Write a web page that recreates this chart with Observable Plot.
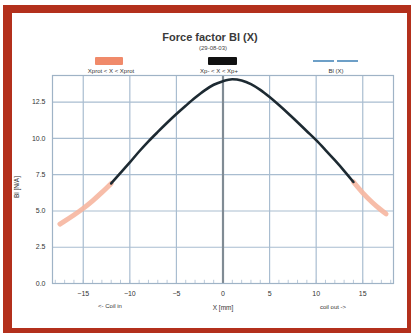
<!DOCTYPE html>
<html><head><meta charset="utf-8">
<script src="https://cdn.jsdelivr.net/npm/d3@7"></script>
<script src="https://cdn.jsdelivr.net/npm/@observablehq/plot@0.6"></script>
<style>
body{margin:0;background:#fff;}
#wrap{position:relative;width:411px;height:333px;overflow:hidden;font-family:"Liberation Sans",Arial,sans-serif;background:#fff;color:#222}
#border{position:absolute;left:3px;top:5px;width:413px;height:332px;box-sizing:border-box;border:9px solid #b3301c;border-top-width:8px;pointer-events:none;z-index:5}
.t{position:absolute;transform:translate(-50%,-50%);white-space:nowrap;z-index:3}
.sw{position:absolute;z-index:3}
#chart{position:absolute;left:0;top:0}
</style></head>
<body><div id="wrap">
<div id="chart"></div>
<div class="t" style="left:210px;top:37px;font-size:11px;font-weight:bold;color:#3a3a3a">Force factor Bl (X)</div>
<div class="t" style="left:213px;top:48px;font-size:6px;color:#444">(29-08-03)</div>
<div class="sw" style="left:95px;top:57px;width:28px;height:8px;background:#f08a6a;border-radius:1px"></div>
<div class="t" style="left:111px;top:71px;font-size:6px;color:#333">Xprot &lt; X &lt; Xprot</div>
<div class="sw" style="left:208px;top:57px;width:29px;height:8px;background:#111;border-radius:1px"></div>
<div class="t" style="left:219px;top:71px;font-size:6px;color:#333">Xp- &lt; X &lt; Xp+</div>
<div class="sw" style="left:313px;top:60px;width:21px;height:2px;background:#6d9fc7"></div>
<div class="sw" style="left:337px;top:60px;width:21px;height:2px;background:#6d9fc7"></div>
<div class="t" style="left:336px;top:71px;font-size:6px;color:#333">Bl (X)</div>
<div class="t" style="left:16px;top:187px;font-size:6.5px;color:#333;transform:translate(-50%,-50%) rotate(-90deg)">Bl [N/A]</div>
<div class="t" style="left:110px;top:306px;font-size:6px;color:#333">&lt;- Coil in</div>
<div class="t" style="left:223px;top:307px;font-size:6.5px;color:#333">X [mm]</div>
<div class="t" style="left:333px;top:307px;font-size:6px;color:#333">coil out -&gt;</div>
<div id="border"></div>
</div>
<script>
const xs = [-17.5,-17,-16,-15,-14,-13,-12,-11,-10,-9,-8,-7,-6,-5,-4,-3,-2,-1,0,1,2,3,4,5,6,7,8,9,10,11,12,13,14,15,16,17,17.5];
const bl = [4.1,4.3,4.72,5.18,5.7,6.28,6.9,7.62,8.35,9.1,9.8,10.45,11.08,11.68,12.25,12.8,13.3,13.7,13.95,14.08,14.0,13.75,13.35,12.85,12.3,11.72,11.12,10.5,9.88,9.2,8.5,7.77,7.0,6.25,5.6,5.05,4.8];
const xLo = -12, xHi = 14;
const xTicks = [-15,-10,-5,0,5,10,15];
const yTicks = [0,2.5,5,7.5,10,12.5];
const minorX = d3.range(-18,19,1);

const data = xs.map((x,i)=>({x, y: bl[i]}));
const left = data.filter(d=>d.x<=xLo);
const mid = data.filter(d=>d.x>=xLo && d.x<=xHi);
const right = data.filter(d=>d.x>=xHi);

const grid = "#a9bdd0";
const chart = Plot.plot({
  width:411, height:333,
  marginLeft:52, marginRight:18, marginTop:75, marginBottom:50,
  style:{fontFamily:"Liberation Sans, Arial, sans-serif", fontSize:"7px", color:"#333", background:"transparent"},
  x:{domain:[-18.3,18.3]},
  y:{domain:[0,14.34]},
  marks:[
    Plot.gridX(xTicks,{stroke:grid,strokeOpacity:1,strokeWidth:1.2}),
    Plot.gridY(yTicks,{stroke:grid,strokeOpacity:1,strokeWidth:1.2}),
    Plot.ruleX(minorX,{y1:0,y2:0.22,stroke:grid,strokeWidth:0.8}),
    Plot.ruleX([0],{stroke:"#808b94",strokeWidth:2.2}),
    Plot.frame({stroke:"#9fb3c6",strokeWidth:1.2}),
    Plot.axisX(xTicks,{tickSize:0,tickPadding:8,label:null,fontSize:7}),
    Plot.axisY(yTicks,{tickSize:0,tickPadding:7,tickFormat:d3.format(".1f"),label:null,fontSize:7}),
    Plot.line(left,{x:"x",y:"y",stroke:"#f6b6a0",strokeWidth:5,strokeOpacity:0.9,curve:"monotone-x"}),
    Plot.line(right,{x:"x",y:"y",stroke:"#f6b6a0",strokeWidth:5,strokeOpacity:0.9,curve:"monotone-x"}),
    Plot.line(mid,{x:"x",y:"y",stroke:"#1d2a32",strokeWidth:2.6,curve:"monotone-x"})
  ]
});
document.getElementById("chart").appendChild(chart);
</script>
</body></html>
